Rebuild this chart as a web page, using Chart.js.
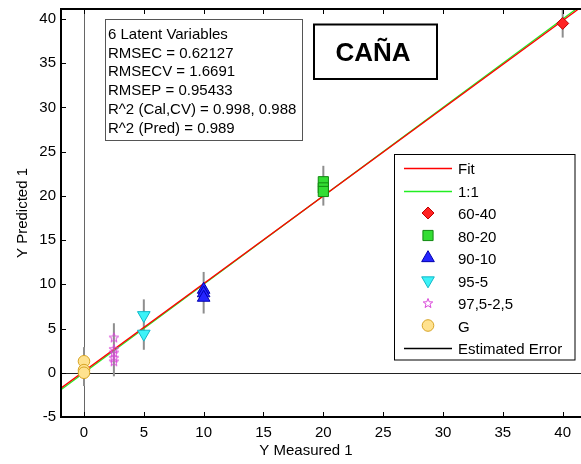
<!DOCTYPE html>
<html><head><meta charset="utf-8">
<script src="https://cdn.jsdelivr.net/npm/chart.js@4.4.0/dist/chart.umd.min.js"></script>
<style>html,body{margin:0;padding:0;background:#fff;}#wrap{width:581px;height:464px;position:relative;}</style>
</head><body><div id="wrap"><canvas id="c" width="581" height="464"></canvas></div>
<script>
// ---- data ----
const categories = ['60-40', '80-20', '90-10', '95-5', '97,5-2,5', 'G'];
const measured = [40, 20, 10, 5, 2.5, 0];
const pred6040 = [39.5];
const pred8020 = [21.6, 20.9, 20.5];
const pred9010 = [9.4, 9.0, 8.5];
const pred955 = [6.5, 4.4];
const pred9752 = [4.0, 2.7, 2.3, 1.7, 1.3];
const predG = [1.3, 0.3, 0.0];
const errLow = [37.9, 18.9, 6.7, 2.6, -0.4, -1.5];
const errHigh = [41.5, 23.4, 11.4, 8.3, 5.6, 2.9];
const lineX = [-2, 42];
const fitY = [-1.82, 41.8];
const oneToOneY = [-2, 42];
const xTicks = [0, 5, 10, 15, 20, 25, 30, 35, 40];
const yTicks = [-5, 0, 5, 10, 15, 20, 25, 30, 35, 40];
const statsLines = ['6 Latent Variables', 'RMSEC = 0.62127', 'RMSECV = 1.6691', 'RMSEP = 0.95433', 'R^2 (Cal,CV) = 0.998, 0.988', 'R^2 (Pred) = 0.989'];
const boxTitle = 'CAÑA';
const xTitle = 'Y Measured 1';
const yTitle = 'Y Predicted 1';
const legendLabels = ['Fit', '1:1', '60-40', '80-20', '90-10', '95-5', '97,5-2,5', 'G', 'Estimated Error'];

const FONT = "'Liberation Sans', Arial, sans-serif";
Chart.defaults.font.family = FONT;

// star marker image (pentagram outline)
function makeStar(size, color) {
  const cv = document.createElement('canvas');
  cv.width = size; cv.height = size;
  const c = cv.getContext('2d');
  const cx = size / 2, cy = size / 2 + 0.5, R = size / 2 - 1, r = R * 0.42;
  c.beginPath();
  for (let i = 0; i < 10; i++) {
    const a = -Math.PI / 2 + i * Math.PI / 5;
    const rr = i % 2 === 0 ? R : r;
    const px = cx + rr * Math.cos(a), py = cy + rr * Math.sin(a);
    i === 0 ? c.moveTo(px, py) : c.lineTo(px, py);
  }
  c.closePath();
  c.strokeStyle = color; c.lineWidth = 1; c.stroke();
  return cv;
}
const starImg = makeStar(12, '#d946d9');

const preds = [pred6040, pred8020, pred9010, pred955, pred9752, predG];
const styles = [
  { pointStyle: 'rectRot', radius: 6, bg: '#ff2222', bd: '#c00000', rot: 0 },
  { pointStyle: 'rect', radius: 7.2, bg: '#33dd33', bd: '#118811', rot: 0 },
  { pointStyle: 'triangle', radius: 7.3, bg: '#2525ff', bd: '#0000b0', rot: 0 },
  { pointStyle: 'triangle', radius: 7.3, bg: '#3cf3f8', bd: '#10b8c8', rot: 180 },
  { pointStyle: starImg, radius: 6, bg: '#d946d9', bd: '#d946d9', rot: 0 },
  { pointStyle: 'circle', radius: 5.8, bg: '#ffe28f', bd: '#d8a424', rot: 0 }
];

const datasets = [];
preds.forEach((arr, i) => {
  const s = styles[i];
  datasets.push({
    label: categories[i],
    data: arr.map(v => ({ x: measured[i], y: v })),
    pointStyle: s.pointStyle, pointRadius: s.radius, pointHoverRadius: s.radius,
    pointRotation: s.rot, backgroundColor: s.bg, borderColor: s.bd, pointBorderWidth: 1,
    showLine: false
  });
});
datasets.push({ label: 'Fit', data: lineX.map((x, i) => ({ x, y: fitY[i] })), showLine: true, borderColor: '#ff0000', borderWidth: 1.3, pointRadius: 0 });
datasets.push({ label: '1:1', data: lineX.map((x, i) => ({ x, y: oneToOneY[i] })), showLine: true, borderColor: '#22ee22', borderWidth: 1.3, pointRadius: 0 });
measured.forEach((m, i) => {
  datasets.push({ label: 'err' + i, data: [{ x: m, y: errLow[i] }, { x: m, y: errHigh[i] }], showLine: true, borderColor: '#8e8e8e', borderWidth: 2, pointRadius: 0 });
});

const deco = {
  id: 'deco',
  beforeDatasetsDraw(chart) {
    const { ctx, chartArea: a, scales: { x, y } } = chart;
    ctx.save();
    ctx.lineWidth = 1;
    const x0 = Math.round(x.getPixelForValue(0)) + 0.5;
    const y0 = Math.round(y.getPixelForValue(0)) + 0.5;
    ctx.strokeStyle = '#666';
    ctx.beginPath(); ctx.moveTo(x0, a.top); ctx.lineTo(x0, a.bottom); ctx.stroke();
    ctx.strokeStyle = '#222';
    ctx.beginPath(); ctx.moveTo(a.left, y0); ctx.lineTo(a.right, y0); ctx.stroke();
    ctx.restore();
  },
  afterDraw(chart) {
    const { ctx, chartArea: a, scales: { x, y } } = chart;
    ctx.save();
    // frame
    ctx.strokeStyle = '#000'; ctx.lineWidth = 2;
    ctx.beginPath();
    ctx.moveTo(a.right + 2, a.top); ctx.lineTo(a.left, a.top); ctx.lineTo(a.left, a.bottom); ctx.lineTo(a.right + 2, a.bottom);
    ctx.stroke();
    // inward ticks
    ctx.lineWidth = 1;
    xTicks.forEach(v => {
      const px = Math.round(x.getPixelForValue(v)) + 0.5;
      ctx.beginPath();
      ctx.moveTo(px, a.bottom); ctx.lineTo(px, a.bottom - 5);
      ctx.moveTo(px, a.top); ctx.lineTo(px, a.top + 5);
      ctx.stroke();
    });
    yTicks.forEach(v => {
      const py = Math.round(y.getPixelForValue(v)) + 0.5;
      ctx.beginPath(); ctx.moveTo(a.left, py); ctx.lineTo(a.left + 5, py); ctx.stroke();
    });
    // x title
    ctx.fillStyle = '#000'; ctx.font = '15px ' + FONT;
    ctx.textAlign = 'center'; ctx.textBaseline = 'middle';
    ctx.fillText(xTitle, 306, 451);
    // stats box
    ctx.fillStyle = '#fff';
    ctx.fillRect(105.5, 19.5, 197, 121);
    ctx.strokeStyle = '#555'; ctx.lineWidth = 1;
    ctx.strokeRect(105.5, 19.5, 197, 121);
    ctx.fillStyle = '#000'; ctx.textAlign = 'left'; ctx.textBaseline = 'alphabetic';
    ctx.font = '15px ' + FONT;
    statsLines.forEach((t, i) => ctx.fillText(t, 108, 39 + i * 18.7));
    // title box
    ctx.fillStyle = '#fff';
    ctx.fillRect(314, 24.5, 123, 54.5);
    ctx.strokeStyle = '#000'; ctx.lineWidth = 2;
    ctx.strokeRect(314, 24.5, 123, 54.5);
    ctx.fillStyle = '#000'; ctx.font = 'bold 26px ' + FONT; ctx.textAlign = 'center';
    ctx.fillText(boxTitle, 373, 61);
    // legend
    const L = { x: 394.5, y: 154.5, w: 180.5, h: 205.5 };
    ctx.fillStyle = '#fff'; ctx.fillRect(L.x, L.y, L.w, L.h);
    ctx.strokeStyle = '#000'; ctx.lineWidth = 1; ctx.strokeRect(L.x, L.y, L.w, L.h);
    const rowY = i => 168 + i * 22.5;
    const lineCols = { 0: '#ff0000', 1: '#22ee22', 8: '#000' };
    ctx.font = '15px ' + FONT; ctx.textAlign = 'left'; ctx.textBaseline = 'middle';
    legendLabels.forEach((lab, i) => {
      const cy = rowY(i);
      if (lineCols[i]) {
        ctx.strokeStyle = lineCols[i]; ctx.lineWidth = 1.3;
        ctx.beginPath(); ctx.moveTo(404, Math.round(cy) + 0.5); ctx.lineTo(452, Math.round(cy) + 0.5); ctx.stroke();
      } else {
        const s = styles[i - 2];
        ctx.fillStyle = s.bg; ctx.strokeStyle = s.bd; ctx.lineWidth = 1;
        Chart.helpers.drawPoint(ctx, { pointStyle: s.pointStyle, radius: s.radius, rotation: s.rot, borderWidth: 1 }, 428, cy);
      }
      ctx.fillStyle = '#000';
      ctx.fillText(lab, 458, cy + 2);
    });
    ctx.restore();
  }
};

new Chart(document.getElementById('c'), {
  type: 'scatter',
  data: { datasets },
  options: {
    responsive: false, animation: false, devicePixelRatio: 1,
    layout: { autoPadding: false, padding: { top: 9, right: 0, left: 0, bottom: 0 } },
    plugins: { legend: { display: false }, tooltip: { enabled: false } },
    scales: {
      x: {
        type: 'linear', position: 'bottom', min: -1.92, max: 41.53,
        grid: { display: false, drawTicks: false }, border: { display: false },
        ticks: { color: '#000', font: { size: 15 }, padding: 7, maxRotation: 0 },
        afterBuildTicks: s => { s.ticks = xTicks.map(v => ({ value: v })); },
        afterFit: s => { s.height = 47; s.paddingLeft = 0; s.paddingRight = 0; }
      },
      y: {
        type: 'linear', position: 'left', min: -5, max: 41.13,
        grid: { display: false, drawTicks: false }, border: { display: false },
        ticks: { color: '#000', font: { size: 15 }, padding: 5 },
        title: { display: true, text: yTitle, color: '#000', font: { size: 15 }, padding: { top: 14, bottom: 0 } },
        afterBuildTicks: s => { s.ticks = yTicks.map(v => ({ value: v })); },
        afterFit: s => { s.width = 61; s.paddingTop = 0; s.paddingBottom = 0; }
      }
    }
  },
  plugins: [deco]
});
</script></body></html>
